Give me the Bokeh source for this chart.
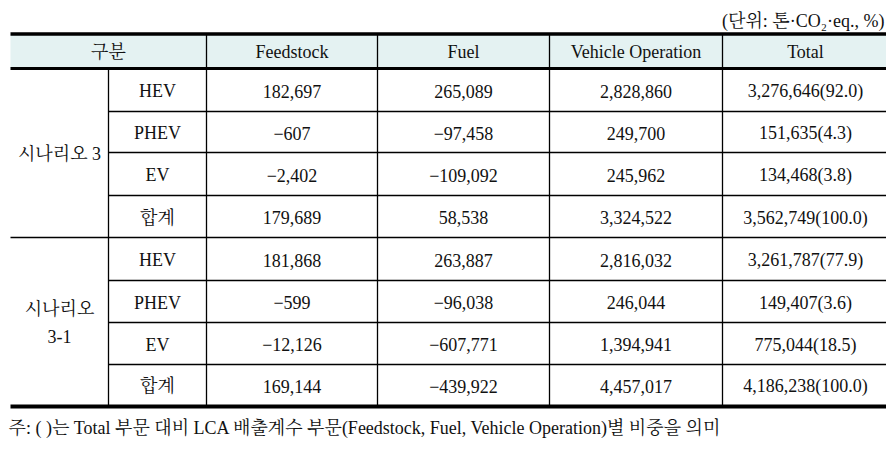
from bokeh.plotting import figure
from bokeh.models import Range1d
from bokeh.core.properties import value
from bokeh.embed import file_html
from bokeh.resources import INLINE

# ---- data ----
unit_label = "(단위: 톤·CO₂·eq., %)"
header = ["구분", "Feedstock", "Fuel", "Vehicle Operation", "Total"]
groups = [["시나리오 3"], ["시나리오", "3-1"]]
vehicles = ["HEV", "PHEV", "EV", "합계"]

feedstock_s3 = [182697, -607, -2402, 179689]
fuel_s3 = [265089, -97458, -109092, 58538]
vehop_s3 = [2828860, 249700, 245962, 3324522]
total_s3 = [3276646, 151635, 134468, 3562749]
share_s3 = [92.0, 4.3, 3.8, 100.0]

feedstock_s31 = [181868, -599, -12126, 169144]
fuel_s31 = [263887, -96038, -607771, -439922]
vehop_s31 = [2816032, 246044, 1394941, 4457017]
total_s31 = [3261787, 149407, 775044, 4186238]
share_s31 = [77.9, 3.6, 18.5, 100.0]

footnote = "주: ( )는 Total 부문 대비 LCA 배출계수 부문(Feedstock, Fuel, Vehicle Operation)별 비중을 의미"

# ---- layout (page pixel coordinates) ----
OX, OY = 1, 1
W, H = 886, 447
col_edges = [11, 109, 207, 378, 550, 723, 889]
top_y, head_bot = 34.5, 69
grp_rows = [[69, 112, 153, 196, 238], [238, 281, 323, 365, 406]]

FONT = value("'Liberation Serif', 'Noto Serif CJK KR', 'Noto Sans CJK KR', serif")
FS = "18px"

def fmt(v):
    return f"{v:,}".replace("-", "−")

p = figure(width=W, height=H, x_range=Range1d(OX, OX + W), y_range=Range1d(OY + H, OY),
           output_backend="svg", toolbar_location=None, min_border=0)
p.axis.visible = False
p.grid.visible = False
p.outline_line_color = None
p.background_fill_color = "white"

# header background
p.quad(left=[col_edges[0]], right=[col_edges[-1]], top=[top_y], bottom=[head_bot],
       fill_color="#E4F2F2", line_color=None)

tx, ty, tt = [], [], []

hx = [(col_edges[0] + col_edges[2]) / 2] + [(col_edges[i] + col_edges[i + 1]) / 2 for i in range(2, 6)]
for x, t in zip(hx, header):
    tx.append(x); ty.append((top_y + head_bot) / 2 + 1); tt.append(t)

data_groups = [
    (feedstock_s3, fuel_s3, vehop_s3, total_s3, share_s3),
    (feedstock_s31, fuel_s31, vehop_s31, total_s31, share_s31),
]

xs0, ys0, xs1, ys1 = [], [], [], []
for g, rows in enumerate(grp_rows):
    fs, fu, vo, to, sh = data_groups[g]
    for r in range(4):
        yc = (rows[r] + rows[r + 1]) / 2 + 1
        cells = [vehicles[r], fmt(fs[r]), fmt(fu[r]), fmt(vo[r]), f"{to[r]:,}({sh[r]:.1f})"]
        for c, t in enumerate(cells):
            tx.append((col_edges[c + 1] + col_edges[c + 2]) / 2); ty.append(yc); tt.append(t)
        if r > 0:
            xs0.append(col_edges[1]); xs1.append(col_edges[-1]); ys0.append(rows[r]); ys1.append(rows[r])
    gc = (rows[0] + rows[-1]) / 2 + 1
    lines = groups[g]
    n = len(lines)
    for k, t in enumerate(lines):
        tx.append(60); ty.append(gc + (k - (n - 1) / 2) * 28); tt.append(t)

for c in range(1, 6):
    y0 = top_y if c >= 2 else head_bot
    xs0.append(col_edges[c]); xs1.append(col_edges[c]); ys0.append(y0); ys1.append(grp_rows[1][-1])
xs0.append(col_edges[0]); xs1.append(col_edges[-1]); ys0.append(grp_rows[0][-1]); ys1.append(grp_rows[0][-1])

p.segment(x0=xs0, y0=ys0, x1=xs1, y1=ys1, line_color="black", line_width=1.3)

p.segment(x0=[col_edges[0]] * 3, x1=[col_edges[-1]] * 3,
          y0=[top_y, head_bot, grp_rows[1][-1] + 1], y1=[top_y, head_bot, grp_rows[1][-1] + 1],
          line_color="black", line_width=[3.5, 3, 4])

p.text(x=tx, y=ty, text=tt, text_align="center", text_baseline="middle",
       text_font=FONT, text_font_size=FS, text_color="#111111")

p.text(x=[885], y=[21], text=[unit_label], text_align="right", text_baseline="middle",
       text_font=FONT, text_font_size="18px", text_color="#111111")
p.text(x=[9], y=[428], text=[footnote], text_align="left", text_baseline="middle",
       text_font=FONT, text_font_size="18px", text_color="#111111")

open("out.html", "w").write(file_html(p, INLINE))
